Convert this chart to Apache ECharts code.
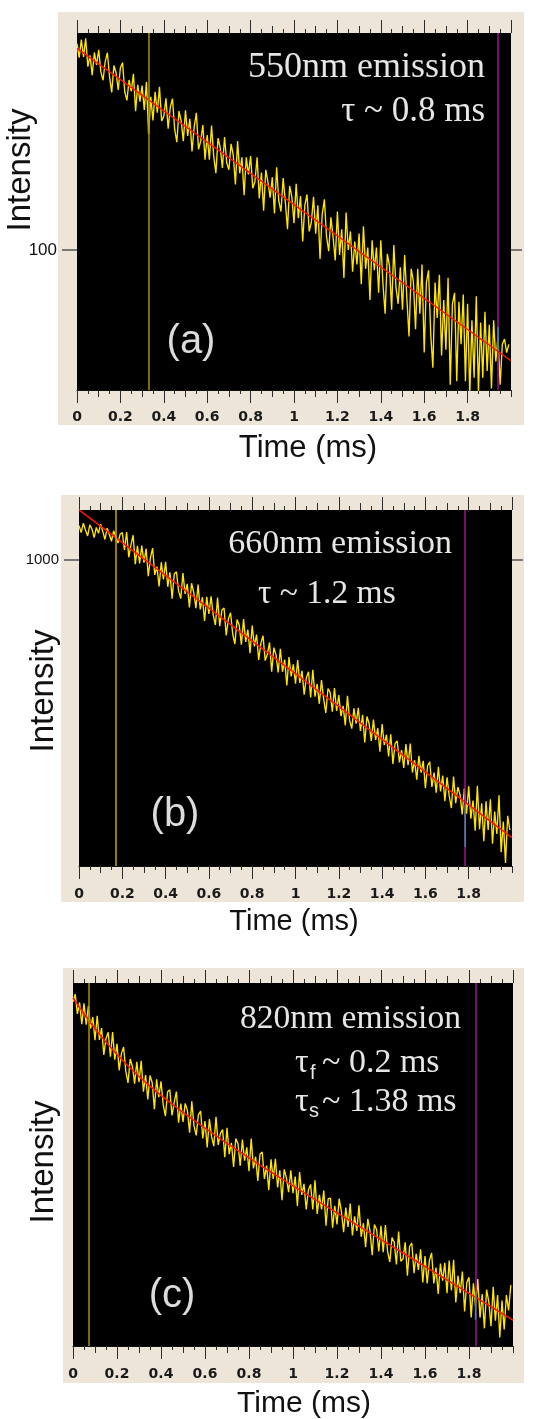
<!DOCTYPE html>
<html>
<head>
<meta charset="utf-8">
<script src="https://cdn.jsdelivr.net/npm/echarts@6/dist/echarts.min.js"></script>
<style>
  html, body { margin: 0; padding: 0; background: #ffffff; }
  #chart { width: 534px; height: 1419px; }
</style>
</head>
<body>
<div id="chart"></div>
<script>
// Sampling step of the decay traces (ms)
const dt = 0.01;

// Time-axis tick labels (ms)
const timeTickLabels = ['0', '0.2', '0.4', '0.6', '0.8', '1', '1.2', '1.4', '1.6', '1.8'];
// Intensity tick labels
const ticks550 = [100];
const ticks660 = [1000];

// 550 nm emission decay (counts)
const decay550 = [
  522, 466, 539, 469, 544, 434, 475, 405, 486, 440,
  496, 416, 389, 452, 485, 400, 353, 438, 413, 360,
  430, 448, 355, 331, 390, 356, 410, 304, 375, 328,
  373, 307, 384, 253, 341, 282, 355, 300, 369, 281,
  292, 337, 264, 314, 336, 263, 237, 304, 281, 239,
  306, 249, 286, 220, 268, 300, 224, 239, 272, 206,
  251, 206, 271, 212, 185, 245, 227, 193, 247, 201,
  190, 234, 214, 169, 239, 185, 210, 155, 210, 183,
  212, 164, 173, 210, 151, 186, 137, 190, 172, 152,
  179, 134, 194, 148, 136, 178, 147, 118, 167, 153,
  124, 170, 129, 154, 107, 143, 156, 116, 125, 153,
  114, 143, 93, 133, 150, 111, 99, 130, 111, 92,
  136, 96, 118, 80, 135, 100, 116, 84, 107, 89,
  114, 76, 121, 86, 102, 67, 108, 85, 102, 71,
  108, 76, 60, 97, 88, 62, 104, 74, 65, 87,
  62, 96, 68, 50, 86, 78, 53, 86, 60, 89,
  44, 77, 85, 51, 39, 77, 58, 82, 43, 67,
  45, 80, 34, 65, 71, 35, 66, 47, 70, 35,
  65, 31, 57, 36, 69, 32, 56, 36, 61, 38,
  55, 33, 57, 41, 50, 34, 47, 49, 44, 47
];
// single-exponential fit, tau ~ 0.8 ms
const fit550T = [0, 2.0];
const fit550V = [502, 41.2];

// 660 nm emission decay (counts)
const decay660 = [
  1190, 1150, 1205, 1165, 1130, 1195, 1170, 1120, 1180, 1145,
  1200, 1155, 1110, 1175, 1140, 1100, 1160, 1125, 1090, 1140,
  1149, 1053, 1152, 1014, 1080, 1134, 979, 1074, 983, 1076,
  987, 1059, 921, 1012, 1062, 927, 967, 874, 989, 906,
  991, 873, 939, 822, 932, 942, 855, 822, 936, 842,
  886, 786, 889, 848, 783, 883, 778, 828, 734, 830,
  761, 832, 756, 719, 827, 715, 776, 784, 682, 742,
  765, 687, 653, 739, 719, 651, 741, 660, 702, 623,
  717, 645, 685, 602, 655, 681, 600, 620, 658, 567,
  641, 618, 565, 637, 567, 603, 529, 611, 554, 589,
  534, 602, 536, 570, 505, 550, 567, 498, 573, 500,
  533, 482, 544, 494, 460, 521, 511, 463, 522, 465,
  504, 453, 477, 432, 502, 443, 425, 471, 436, 472,
  420, 456, 396, 452, 436, 399, 445, 401, 426, 378,
  435, 391, 412, 369, 413, 355, 394, 399, 358, 381,
  348, 393, 353, 394, 340, 362, 328, 370, 340, 361,
  314, 352, 359, 316, 340, 307, 350, 309, 335, 294,
  332, 302, 284, 333, 291, 316, 304, 275, 314, 276,
  317, 269, 295, 253, 318, 255, 291, 240, 294, 254,
  297, 237, 279, 249, 303, 227, 265, 215, 273, 254
];
// single-exponential fit, tau ~ 1.2 ms
const fit660T = [0, 2.0];
const fit660V = [1290, 244.3];

// 820 nm emission decay (arb. units)
const decay820 = [
  980, 1021, 917, 976, 867, 971, 865, 958, 847, 902,
  795, 908, 796, 849, 734, 803, 830, 727, 831, 715,
  780, 675, 739, 766, 672, 630, 718, 690, 628, 707,
  633, 711, 601, 658, 576, 656, 631, 546, 643, 583,
  636, 560, 526, 601, 607, 528, 567, 601, 508, 563,
  510, 564, 543, 481, 570, 499, 474, 530, 541, 466,
  512, 444, 518, 470, 447, 524, 450, 479, 489, 421,
  494, 428, 455, 399, 466, 453, 402, 463, 413, 444,
  390, 466, 396, 422, 370, 428, 433, 374, 402, 352,
  416, 374, 417, 357, 392, 333, 394, 376, 348, 392,
  346, 379, 323, 388, 343, 364, 317, 352, 363, 317,
  371, 309, 343, 317, 351, 290, 336, 337, 287, 323,
  292, 336, 313, 280, 320, 288, 327, 275, 305, 282,
  324, 273, 294, 258, 301, 282, 247, 292, 284, 252,
  290, 251, 291, 252, 238, 272, 265, 235, 281, 239,
  242, 265, 221, 259, 264, 224, 249, 228, 255, 213,
  246, 212, 240, 250, 212, 231, 200, 236, 215, 237,
  201, 240, 204, 241, 191, 221, 201, 226, 182, 213,
  219, 176, 212, 187, 217, 176, 200, 166, 205, 192,
  168, 208, 173, 199, 158, 193, 165, 199, 183, 210
];
// bi-exponential fit (tau_f ~ 0.2 ms, tau_s ~ 1.38 ms)
const fit820T = [0, 0.1, 0.2, 0.3, 0.4, 0.5, 0.7, 1.0, 1.5, 2.0];
const fit820V = [1000, 846, 736, 653, 589, 537, 454, 360, 250, 173.6];

// cursor positions (ms) and cursor-readout segments
const cursors550 = [0.327, 1.94];
const cursors660 = [0.165, 1.784];
const cursors820 = [0.075, 1.83];
const readout550 = [54, 44.9];
const readout660 = [288, 233];
const readout820 = [202, 174];

const BEIGE = '#ede5d8';
const TICK = '#2a2a2a';

function pairs(values) { return values.map((v, i) => [+(i * dt).toFixed(2), v]); }
function zip(t, v) { return t.map((x, i) => [x, v[i]]); }

const panels = [
  { grid: { left: 77, top: 33, width: 434, height: 357 }, yMin: 32.6, yMax: 568, yTicks: ticks550, yFont: 17,
    decay: decay550, fitT: fit550T, fitV: fit550V, cursors: cursors550, readout: readout550, labelMargin: 20,
    cursorColor: '#a89300', showY: true },
  { grid: { left: 79, top: 510, width: 433, height: 356 }, yMin: 211.6, yMax: 1289, yTicks: ticks660, yFont: 15,
    decay: decay660, fitT: fit660T, fitV: fit660V, cursors: cursors660, readout: readout660, labelMargin: 21,
    cursorColor: '#c9ab00', showY: true },
  { grid: { left: 73, top: 983, width: 440, height: 363 }, yMin: 150.8, yMax: 1085, yTicks: [], yFont: 15,
    decay: decay820, fitT: fit820T, fitV: fit820V, cursors: cursors820, readout: readout820, labelMargin: 21,
    cursorColor: '#a89300', showY: false }
];

const grid = [], xAxis = [], yAxis = [], series = [];

function xAx(k, pos, interval, len, extra) {
  return Object.assign({
    type: 'value', gridIndex: k, position: pos, min: 0, max: 2, interval: interval,
    axisLine: { show: false, onZero: false }, splitLine: { show: false },
    axisTick: { show: true, inside: false, length: len, lineStyle: { color: TICK, width: 1 } },
    axisLabel: { show: false }, minorTick: { show: false }
  }, extra || {});
}
const minor = { show: true, splitNumber: 2, length: 4, lineStyle: { color: TICK, width: 1 } };

panels.forEach((p, k) => {
  grid.push(Object.assign({ show: true, backgroundColor: '#000000', borderWidth: 0, containLabel: false }, p.grid));

  const xi = xAxis.length;
  xAxis.push(xAx(k, 'bottom', 0.2, 13, {
    axisLine: { show: true, onZero: false, lineStyle: { color: '#111', width: 1 } },
    axisLabel: {
      show: true, margin: p.labelMargin, color: '#1a1a1a', fontFamily: 'DejaVu Sans', fontWeight: 'bold', fontSize: 14,
      showMaxLabel: false,
      formatter: v => { const i = Math.round(v / 0.2); return i < timeTickLabels.length ? timeTickLabels[i] : ''; }
    }
  }));
  xAxis.push(xAx(k, 'bottom', 0.1, 7, { minorTick: minor }));
  xAxis.push(xAx(k, 'top', 0.2, 13));
  xAxis.push(xAx(k, 'top', 0.1, 7, { minorTick: minor }));

  const yi = yAxis.length;
  yAxis.push({
    type: 'log', logBase: 10, gridIndex: k, position: 'left', min: p.yMin, max: p.yMax, show: p.showY,
    axisLine: { show: false, onZero: false }, splitLine: { show: false }, minorTick: { show: false },
    axisTick: { show: true, inside: false, length: 15, customValues: p.yTicks, lineStyle: { color: '#555', width: 1.5 } },
    axisLabel: { show: true, customValues: p.yTicks, margin: 20, color: '#111', fontFamily: 'Liberation Sans', fontSize: p.yFont, formatter: v => String(Math.round(v)) }
  });
  yAxis.push({
    type: 'log', logBase: 10, gridIndex: k, position: 'right', min: p.yMin, max: p.yMax, show: p.showY,
    axisLine: { show: false, onZero: false }, splitLine: { show: false }, minorTick: { show: false },
    axisTick: { show: true, inside: false, length: 11, customValues: p.yTicks, lineStyle: { color: '#555', width: 1.5 } },
    axisLabel: { show: false }
  });

  series.push({
    type: 'line', xAxisIndex: xi, yAxisIndex: yi, data: pairs(p.decay), showSymbol: false, symbol: 'none',
    lineStyle: { color: '#ffe600', width: 1.35 }, z: 2, silent: true
  });
  series.push({
    type: 'line', xAxisIndex: xi, yAxisIndex: yi, data: zip(p.fitT, p.fitV), showSymbol: false, symbol: 'none',
    smooth: k === 2 ? 0.3 : false,
    lineStyle: { color: '#ff1500', width: 1.5 }, z: 3, silent: true
  });
  series.push({
    type: 'line', xAxisIndex: xi, yAxisIndex: yi, data: [], silent: true, z: 4,
    markLine: {
      silent: true, symbol: 'none', animation: false, label: { show: false },
      data: [
        { xAxis: p.cursors[0], lineStyle: { color: p.cursorColor, width: 1.5, type: 'solid' } },
        { xAxis: p.cursors[1], lineStyle: { color: '#a0138c', width: 1.5, type: 'solid' } }
      ]
    }
  });
  series.push({
    type: 'line', xAxisIndex: xi, yAxisIndex: yi, data: p.readout.map(v => [p.cursors[1], v]),
    showSymbol: false, symbol: 'none', lineStyle: { color: '#2b93a3', width: 1.6 }, z: 5, silent: true
  });
});

const serif = 'Liberation Serif, Times New Roman, serif';
const sans = 'Liberation Sans, Arial, sans-serif';
function txt(text, x, y, size, opts) {
  opts = opts || {};
  return {
    type: 'text', x: x, y: y, rotation: opts.rotation || 0, z: 100, silent: true,
    style: {
      text: text, x: 0, y: 0, fill: opts.fill || '#e6e6e6',
      font: (opts.weight ? opts.weight + ' ' : '') + size + 'px ' + (opts.family || serif),
      textAlign: opts.align || 'left', textVerticalAlign: 'middle', verticalAlign: 'middle'
    }
  };
}
function frame(x, y, w, h) {
  return { type: 'rect', z: -100, silent: true, shape: { x: x, y: y, width: w, height: h }, style: { fill: BEIGE } };
}

const ink = '#111111';
const graphic = [
  frame(58, 12, 466, 413),
  frame(61, 495, 463, 407),
  frame(63, 968, 461, 415),

  // panel (a)
  txt('550nm emission', 485, 68, 36, { align: 'right' }),
  txt('τ ~ 0.8 ms', 485, 112, 35, { align: 'right' }),
  txt('(a)', 191, 342, 40, { align: 'center', family: sans, fill: '#dcdcdc' }),
  txt('Intensity', 21, 170, 33, { align: 'center', family: sans, fill: ink, rotation: Math.PI / 2 }),
  txt('Time (ms)', 308, 448, 31, { align: 'center', family: sans, fill: ink }),

  // panel (b)
  txt('660nm emission', 452, 544, 34, { align: 'right' }),
  txt('τ ~ 1.2 ms', 258, 594, 33.5),
  txt('(b)', 175, 815, 40, { align: 'center', family: sans, fill: '#dcdcdc' }),
  txt('Intensity', 44, 691, 33, { align: 'center', family: sans, fill: ink, rotation: Math.PI / 2 }),
  txt('Time (ms)', 294, 922, 29, { align: 'center', family: sans, fill: ink }),

  // panel (c)
  txt('820nm emission', 461, 1019, 33.6, { align: 'right' }),
  txt('τ', 295, 1063, 34),
  txt('f', 310, 1073, 20, { family: sans }),
  txt('~ 0.2 ms', 322, 1063, 34),
  txt('τ', 295, 1102, 34),
  txt('s', 309, 1111, 20, { family: sans }),
  txt('~ 1.38 ms', 322, 1102, 34),
  txt('(c)', 172, 1296, 40, { align: 'center', family: sans, fill: '#dcdcdc' }),
  txt('Intensity', 44, 1162, 33, { align: 'center', family: sans, fill: ink, rotation: Math.PI / 2 }),
  txt('Time (ms)', 304, 1404, 30, { align: 'center', family: sans, fill: ink })
];

const chart = echarts.init(document.getElementById('chart'), null, { renderer: 'canvas' });
chart.setOption({
  animation: false,
  backgroundColor: '#ffffff',
  grid: grid,
  xAxis: xAxis,
  yAxis: yAxis,
  series: series,
  graphic: { elements: graphic }
});
</script>
</body>
</html>
